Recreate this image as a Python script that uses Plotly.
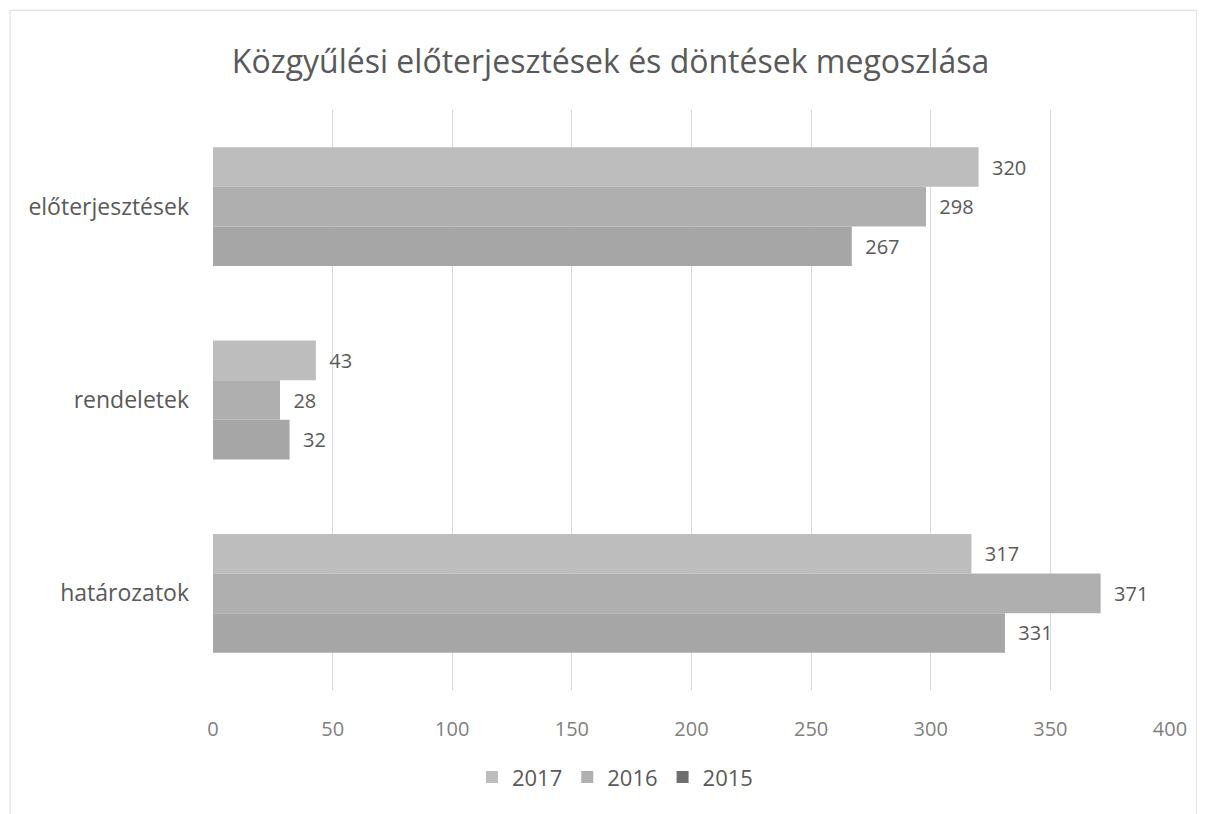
import plotly.graph_objs as go

# adatok
categories = ['előterjesztések', 'rendeletek', 'határozatok']
years = ['2017', '2016', '2015']
values_2017 = [320, 43, 317]
values_2016 = [298, 28, 371]
values_2015 = [267, 32, 331]
x_ticks = [0, 50, 100, 150, 200, 250, 300, 350, 400]

series = {'2017': values_2017, '2016': values_2016, '2015': values_2015}
bar_colors = {'2017': '#bdbdbd', '2016': '#afafaf', '2015': '#a6a6a6'}
legend_colors = {'2017': '#bdbdbd', '2016': '#b0b0b0', '2015': '#6e6e6e'}
font_name = 'Open Sans, sans-serif'

fig = go.Figure()

for year in years:
    fig.add_trace(go.Bar(
        y=categories,
        x=series[year],
        orientation='h',
        name=year,
        marker=dict(color=bar_colors[year], line=dict(width=0)),
        text=series[year],
        texttemplate='\u00a0\u00a0%{x}',
        textposition='outside',
        textfont=dict(size=20, color='#595959', family=font_name),
        cliponaxis=False,
        showlegend=False
    ))

# jelmagyarázat külön, négyzet jelekkel
for year in years:
    fig.add_trace(go.Scatter(
        x=[None], y=[None],
        mode='markers',
        name=year,
        marker=dict(symbol='square', size=12, color=legend_colors[year])
    ))

fig.update_layout(
    width=1205,
    height=814,
    paper_bgcolor='white',
    plot_bgcolor='white',
    barmode='group',
    bargap=0.385,
    bargroupgap=0,
    margin=dict(l=205, r=43, t=102, b=132),
    font=dict(family=font_name, color='#595959'),
    title=dict(
        text='Közgyűlési előterjesztések és döntések megoszlása',
        x=0.5, xanchor='center',
        y=0.934, yanchor='middle',
        font=dict(size=32, color='#595959', family=font_name)
    ),
    legend=dict(
        orientation='h',
        x=0.42, xanchor='center',
        yref='container', y=0.055, yanchor='middle',
        font=dict(size=22, color='#595959'),
        itemwidth=30,
        traceorder='normal'
    ),
    shapes=[dict(
        type='rect', xref='paper', yref='paper',
        x0=-0.212, x1=1.028, y0=-0.3, y1=1.172,
        line=dict(color='#d9d9d9', width=1)
    )]
)

fig.update_xaxes(
    range=[0, 400],
    tickvals=x_ticks,
    showgrid=True,
    gridcolor='#d9d9d9',
    gridwidth=1,
    zeroline=False,
    showline=False,
    ticklabelstandoff=25,
    tickfont=dict(size=20, color='#7f7f7f')
)
fig.update_yaxes(
    categoryorder='array',
    categoryarray=categories,
    autorange='reversed',
    showgrid=False,
    zeroline=False,
    showline=False,
    ticklabelstandoff=23,
    tickfont=dict(size=23, color='#595959')
)

fig.write_html("out.html")
